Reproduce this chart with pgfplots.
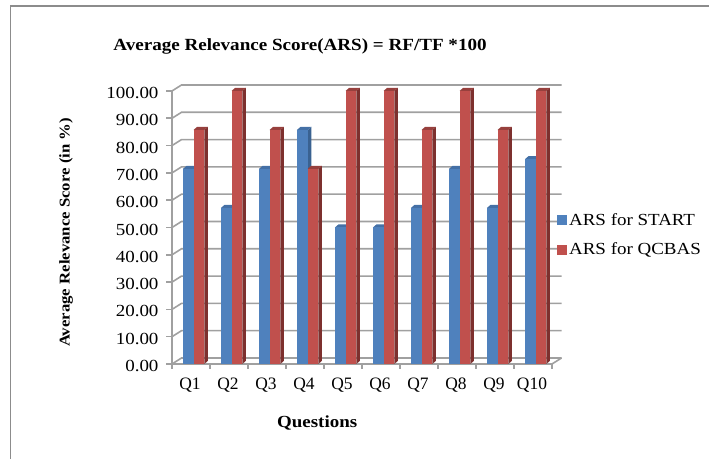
\documentclass[border=0pt]{standalone}
\usepackage{fontspec}
\setmainfont{Liberation Serif}
\newfontfamily\stretched[FakeStretch=1.12]{Liberation Serif}
\usepackage{pgfplots}
\pgfplotsset{compat=1.18}

\definecolor{startblue}{HTML}{4F81BD}
\definecolor{startside}{HTML}{3A6291}
\definecolor{starttop}{HTML}{4470A6}
\definecolor{qcbasred}{HTML}{C0504D}
\definecolor{qcbasside}{HTML}{7D302E}
\definecolor{qcbastop}{HTML}{97403D}
\definecolor{gridgray}{HTML}{A0A0A0}
\definecolor{framegray}{HTML}{8C8C8C}

% one 3d bar: #1 category centre, #2 value, #3 shift in px, #4 front, #5 side, #6 top
\newcommand{\cuboid}[6]{%
  \pgfmathsetmacro{\xl}{#1+(#3-5.4)/38}%
  \pgfmathsetmacro{\xr}{#1+(#3+5.4)/38}%
  \pgfmathsetmacro{\xb}{\xr+0.095}%
  \pgfmathsetmacro{\xc}{\xl+0.095}%
  \pgfmathsetmacro{\yt}{#2+1.15}%
  \addplot[forget plot, fill=#5, draw=none] coordinates {(\xr,0) (\xb,1.15) (\xb,\yt) (\xr,#2)} -- cycle;
  \addplot[forget plot, fill=#6, draw=none] coordinates {(\xl,#2) (\xc,\yt) (\xb,\yt) (\xr,#2)} -- cycle;
  \addplot[forget plot, ybar, bar width=10.8bp, bar shift=#3bp, fill=#4, draw=none] coordinates {(#1,#2)};
}

\begin{document}
\begin{tikzpicture}[x=1bp,y=1bp]
  \path[use as bounding box] (0,0) rectangle (709,459);
  \draw[framegray, line width=1.5bp] (10.5,0) -- (10.5,453) -- (709,453);
  \begin{axis}[
      at={(172bp,95bp)}, anchor=south west,
      scale only axis, width=380bp, height=273bp,
      clip=false,
      xmin=0, xmax=10, ymin=0, ymax=100,
      axis x line*=bottom, axis y line*=left,
      axis line style={gridgray, line width=1.6bp, -},
      tick align=outside,
      xtick={0.5,1.5,2.5,3.5,4.5,5.5,6.5,7.5,8.5,9.5},
      xticklabels={Q1,Q2,Q3,Q4,Q5,Q6,Q7,Q8,Q9,Q10},
      minor xtick={0,1,2,3,4,5,6,7,8,9,10},
      major x tick style={draw=none},
      minor x tick style={gridgray, line width=1.6bp},
      minor tick length=5bp,
      ytick={0,10,20,30,40,50,60,70,80,90,100},
      y tick style={gridgray, line width=1.6bp},
      major tick length=6bp,
      /pgf/number format/assume math mode=true,
      xticklabel style={font=\fontsize{17.5}{18}\selectfont, yshift=-4bp, xshift=-1bp},
      yticklabel style={font=\stretched\fontsize{17}{18}\selectfont, xshift=-4bp, yshift=-2bp,
        /pgf/number format/fixed, /pgf/number format/fixed zerofill, /pgf/number format/precision=2},
      xlabel={\textbf{Questions}},
      x label style={font=\stretched\fontsize{17}{18}\selectfont, at={(axis description cs:0.382,0)}, anchor=center, yshift=-59bp},
      ylabel={\textbf{Average Relevance Score (in \%)}},
      y label style={font=\stretched\fontsize{15}{16}\selectfont, at={(axis description cs:-0.279,0.482)}, anchor=center},
      title={\textbf{Average Relevance Score(ARS) = RF/TF *100}},
      title style={font=\stretched\fontsize{17.1}{18}\selectfont, at={(axis description cs:0.337,1)}, anchor=center, yshift=39bp},
      legend style={at={(axis description cs:1.013,0.4725)}, anchor=west, draw=none, fill=none,
        font=\stretched\fontsize{17}{18}\selectfont, row sep=16bp, inner sep=0pt, nodes={inner xsep=2bp, inner ysep=0pt}},
      legend cell align=left,
      legend image code/.code={\fill[#1] (0bp,-5bp) rectangle (10bp,5bp);},
    ]
    % back wall and floor lines
    \pgfplotsforeachungrouped \v in {0,10,20,30,40,50,60,70,80,90,100}{
      \pgfmathsetmacro{\w}{\v+2.2}
      \addplot[forget plot, gridgray, line width=1.6bp] coordinates {(0,\v) (0.25,\w) (10.25,\w)};
    }
    \addplot[forget plot, gridgray, line width=1.6bp] coordinates {(10,0) (10.25,2.2)};

    % ARS for START
    \pgfplotsforeachungrouped \x/\y in {0.5/71.43,1.5/57.14,2.5/71.43,3.5/85.71,4.5/50.00,5.5/50.00,6.5/57.14,7.5/71.43,8.5/57.14,9.5/75.00}{
      \cuboid{\x}{\y}{-2.7}{startblue}{startside}{starttop}
    }
    % ARS for QCBAS
    \pgfplotsforeachungrouped \x/\y in {0.5/85.71,1.5/100.00,2.5/85.71,3.5/71.43,4.5/100.00,5.5/100.00,6.5/85.71,7.5/100.00,8.5/85.71,9.5/100.00}{
      \cuboid{\x}{\y}{7.9}{qcbasred}{qcbasside}{qcbastop}
    }

    \addlegendimage{fill=startblue, draw=none}
    \addlegendentry{ARS for START}
    \addlegendimage{fill=qcbasred, draw=none}
    \addlegendentry{ARS for QCBAS}
  \end{axis}
\end{tikzpicture}
\end{document}
